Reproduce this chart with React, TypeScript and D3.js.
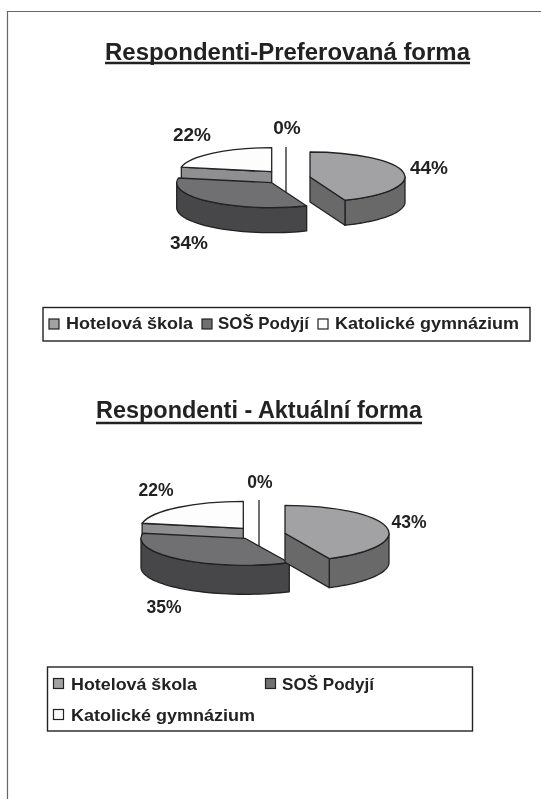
import React from "react";
import * as d3 from "d3";

const categories = ["Hotelová škola", "SOŠ Podyjí", "Katolické gymnázium", ""];
const preferredValues = [44, 34, 22, 0];
const currentValues = [43, 35, 22, 0];
const topColors = ["#a2a2a4", "#707072", "#fdfdfd", "#fff"];
const wallColors = ["#69696b", "#464648", "#8f8f91", "#fff"];
const INK = "#222";

type Place = { cx: number; cy: number; rx: number; ry: number };
type ChartCfg = {
  title: string; titleX: number; titleY: number; titleW: number; underY: number; fs: number;
  values: number[]; depth: number; places: Place[];
  labels: { t: string; x: number; y: number }[]; labelFs: number;
};

const charts: ChartCfg[] = [
  {
    title: "Respondenti-Preferovaná forma", titleX: 105, titleY: 60, titleW: 365, underY: 63, fs: 23,
    values: preferredValues, depth: 25,
    places: [
      { cx: 310, cy: 177, rx: 95, ry: 25 },
      { cx: 271.7, cy: 182.7, rx: 95, ry: 25 },
      { cx: 271.7, cy: 171.7, rx: 92, ry: 24 },
      { cx: 286, cy: 172, rx: 90, ry: 25 },
    ],
    labels: [
      { t: "44%", x: 429, y: 174 },
      { t: "22%", x: 192, y: 141 },
      { t: "0%", x: 287, y: 134 },
      { t: "34%", x: 189, y: 249 },
    ],
    labelFs: 19,
  },
  {
    title: "Respondenti - Aktuální forma", titleX: 96, titleY: 418, titleW: 326, underY: 423, fs: 23,
    values: currentValues, depth: 29,
    places: [
      { cx: 285, cy: 533.3, rx: 104, ry: 28 },
      { cx: 245, cy: 538.3, rx: 104, ry: 27 },
      { cx: 243.3, cy: 528.3, rx: 103, ry: 27 },
      { cx: 259, cy: 527, rx: 100, ry: 27 },
    ],
    labels: [
      { t: "43%", x: 409, y: 528 },
      { t: "22%", x: 156, y: 496 },
      { t: "0%", x: 260, y: 488 },
      { t: "35%", x: 164, y: 613 },
    ],
    labelFs: 17.5,
  },
];

const legends = [
  {
    box: [43, 307.5, 487, 33.5],
    items: [
      { i: 0, sx: 49, sy: 319, tx: 66, ty: 329, w: 127 },
      { i: 1, sx: 202, sy: 319, tx: 218, ty: 329, w: 91 },
      { i: 2, sx: 318, sy: 319, tx: 335, ty: 329, w: 184 },
    ],
  },
  {
    box: [47.5, 667, 425, 64],
    items: [
      { i: 0, sx: 53.5, sy: 678.5, tx: 71, ty: 690, w: 126 },
      { i: 1, sx: 265.5, sy: 678.5, tx: 282, ty: 690, w: 92 },
      { i: 2, sx: 53.5, sy: 709.5, tx: 71, ty: 721, w: 184 },
    ],
  },
];

const FONT = "'Liberation Sans', Arial, sans-serif";
const pt = (p: Place, a: number, dy = 0): [number, number] => [
  p.cx + p.rx * Math.sin(a),
  p.cy - p.ry * Math.cos(a) + dy,
];
const line = d3.line();

function Pie3D({ c }: { c: ChartCfg }) {
  const arcs = d3.pie<number>().sort(null)(c.values);
  const order = [3, 2, 1, 0];
  return (
    <g>
      {order.map((i) => {
        const a = arcs[i];
        const p = c.places[i];
        const apex: [number, number] = [p.cx, p.cy];
        if (a.value === 0) {
          const top = pt(p, a.startAngle);
          return <line key={i} x1={top[0]} x2={top[0]} y1={top[1]} y2={p.cy + c.depth} stroke={INK} strokeWidth={1.3} />;
        }
        const from = Math.max(a.startAngle, Math.PI / 2);
        const to = Math.min(a.endAngle, (3 * Math.PI) / 2);
        const rim = to > from ? d3.range(0, 41).map((k) => from + ((to - from) * k) / 40) : [];
        const wall = rim.length
          ? line([...rim.map((t) => pt(p, t)), ...rim.slice().reverse().map((t) => pt(p, t, c.depth))]) + "Z"
          : "";
        const cutAngle = i === 0 ? a.endAngle : i === 2 ? a.startAngle : null;
        const cut = cutAngle === null ? "" : line([apex, pt(p, cutAngle), pt(p, cutAngle, c.depth), [p.cx, p.cy + c.depth]]) + "Z";
        const arcPath = d3.arc()({ innerRadius: 0, outerRadius: p.rx, startAngle: a.startAngle, endAngle: a.endAngle } as any) as string;
        return (
          <g key={i} stroke={INK} strokeWidth={1.3} strokeLinejoin="round">
            {wall && <path d={wall} fill={wallColors[i]} />}
            {cut && <path d={cut} fill={wallColors[i]} />}
            <g transform={`translate(${p.cx},${p.cy}) scale(1,${p.ry / p.rx})`}>
              <path d={arcPath} fill={topColors[i]} vectorEffect="non-scaling-stroke" />
            </g>
          </g>
        );
      })}
      {c.labels.map((l) => (
        <text key={l.t} x={l.x} y={l.y} textAnchor="middle" fontSize={c.labelFs} fontWeight="bold" fill={INK} fontFamily={FONT}>
          {l.t}
        </text>
      ))}
      <text x={c.titleX} y={c.titleY} fontSize={c.fs} fontWeight="bold" fill={INK} fontFamily={FONT} textLength={c.titleW} lengthAdjust="spacingAndGlyphs">
        {c.title}
      </text>
      <line x1={c.titleX} x2={c.titleX + c.titleW} y1={c.underY} y2={c.underY} stroke={INK} strokeWidth={2.4} />
    </g>
  );
}

export default function App() {
  return (
    <svg width={541} height={799} style={{ position: "absolute", left: 0, top: 0, background: "#fff" }}>
      <defs>
        <filter id="soft" x="0" y="0" width="100%" height="100%">
          <feGaussianBlur stdDeviation="0.35" />
        </filter>
      </defs>
      <g filter="url(#soft)">
        <rect width={541} height={799} fill="#fff" />
        <path d="M7.5,799V11.5H541" fill="none" stroke="#666" strokeWidth={1.2} />
        {charts.map((c) => <Pie3D key={c.title} c={c} />)}
        {legends.map((l, n) => (
          <g key={n}>
            <rect x={l.box[0]} y={l.box[1]} width={l.box[2]} height={l.box[3]} fill="#fff" stroke={INK} strokeWidth={1.4} />
            {l.items.map((it) => (
              <g key={it.i}>
                <rect x={it.sx} y={it.sy} width={10} height={10} fill={topColors[it.i]} stroke={INK} strokeWidth={1.2} />
                <text x={it.tx} y={it.ty} fontSize={16.5} fontWeight="bold" fill={INK} fontFamily={FONT} textLength={it.w} lengthAdjust="spacingAndGlyphs">
                  {categories[it.i]}
                </text>
              </g>
            ))}
          </g>
        ))}
      </g>
    </svg>
  );
}
